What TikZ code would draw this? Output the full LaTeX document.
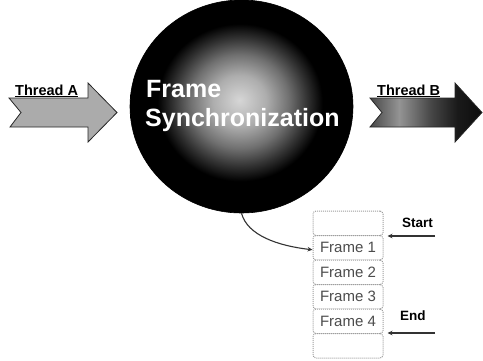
\documentclass[tikz,border=0pt]{standalone}
\usepackage{fontspec}
\setmainfont{Liberation Sans}
\usetikzlibrary{arrows.meta,shapes.geometric}

% soft light core fading into a black rim (path edge sits at 25bp)
\pgfdeclareradialshading{sphereglow}{\pgfpoint{-0.5bp}{1.5bp}}{%
  color(0bp)=(black!16); color(6bp)=(black!32); color(11bp)=(black!56);
  color(15bp)=(black!80); color(18.5bp)=(black); color(50bp)=(black)}
% dark tail, lighter middle, near-black head (path spans 25bp..75bp)
\pgfdeclarehorizontalshading{threadbfill}{100bp}{%
  color(0bp)=(black!72); color(25bp)=(black!72); color(38bp)=(black!42);
  color(52bp)=(black!72); color(64bp)=(black!90); color(75bp)=(black!95);
  color(100bp)=(black!95)}

\tikzset{
  threadshape/.style={draw=black!85, line width=0.8pt, line join=miter},
  threadlabel/.style={font=\fontsize{14.5}{16}\selectfont\bfseries, inner sep=0pt, text=black},
  synctext/.style={font=\fontsize{25}{29}\selectfont\bfseries, text=white, inner sep=0pt},
  framebox/.style={draw=black!38, line width=1pt, densely dotted, rounded corners=3pt,
    fill=white, minimum width=70pt, minimum height=24.5pt, inner sep=0pt,
    font=\fontsize{15}{17}\selectfont, text=black!70},
  sidelabel/.style={font=\fontsize{13.5}{15}\selectfont\bfseries, inner sep=0pt},
  pointer/.style={draw=black!80, line width=1.1pt, -{Stealth[length=5pt,width=4.5pt]}}
}

\begin{document}
\begin{tikzpicture}[x=1pt,y=-1pt]
\useasboundingbox (0,0) rectangle (483,360);

% incoming thread arrow
\path[threadshape, fill=black!33]
  (9,98) -- (88,98) -- (88,83) -- (117,112.5) -- (88,142) -- (88,127)
  -- (10,127) -- (21,112.5) -- cycle;
\node[threadlabel, anchor=base west] (labelA) at (15,95) {\underline{Thread A}};

% outgoing thread arrow
\path[threadshape, shading=threadbfill]
  (370,98) -- (455,98) -- (455,83) -- (482,112.5) -- (455,142) -- (455,127)
  -- (370,127) -- (382,112.5) -- cycle;
\node[threadlabel, anchor=base west] (labelB) at (377,95) {\underline{Thread B}};

% synchronization sphere
\node[ellipse, minimum width=223pt, minimum height=213pt, inner sep=0pt,
      shading=sphereglow, draw=black, line width=0.6pt] (sync) at (241.5,106.5) {};
\node[synctext, anchor=base west] (wordframe) at (146,97) {Frame};
\node[synctext, anchor=base west] (wordsync) at (145,126) {Synchronization};

% frame buffer column
\node[framebox] (slot0) at (348,223.25) {};
\node[framebox] (frame1) at (348,247.75) {Frame 1};
\node[framebox] (frame2) at (348,272.25) {Frame 2};
\node[framebox] (frame3) at (348,296.75) {Frame 3};
\node[framebox] (frame4) at (348,321.25) {Frame 4};
\node[framebox] (slot5) at (348,345.75) {};

% buffer pointers
\node[sidelabel, anchor=base west] (startlbl) at (402,227) {Start};
\node[sidelabel, anchor=base west] (endlbl) at (400,320) {End};
\coordinate (startfrom) at (435,236);
\coordinate (endfrom) at (435,333);
\draw[pointer] (startfrom) -- ([xshift=4pt]slot0.south east |- startfrom);
\draw[pointer] (endfrom) -- ([xshift=4pt]frame4.south east |- endfrom);

% link from the sphere into the buffer
\draw[pointer] (sync.south) .. controls +(6,22) and +(-35,-4) .. ([yshift=-2pt]frame1.west);
\end{tikzpicture}
\end{document}
